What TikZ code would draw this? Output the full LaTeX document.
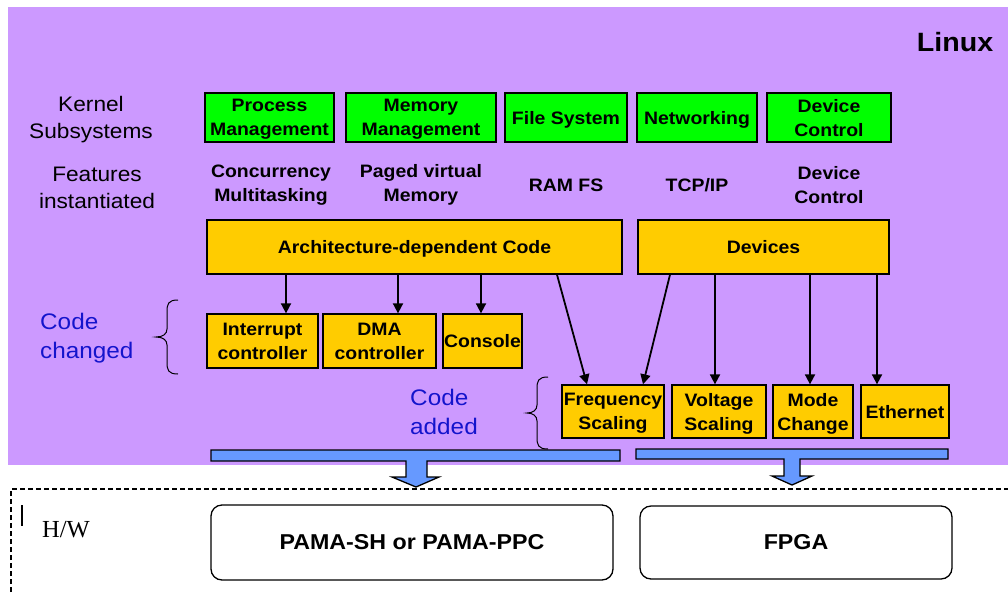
\documentclass[tikz,border=0pt]{standalone}
\usepackage{fontspec}
\setmainfont{Liberation Sans}[FakeStretch=1.08]
\newfontfamily\seriffont{Liberation Serif}
\usetikzlibrary{arrows.meta}
\definecolor{bgpurple}{HTML}{CC99FF}
\definecolor{boxgreen}{HTML}{00FF00}
\definecolor{boxorange}{HTML}{FFCC00}
\definecolor{barblue}{HTML}{6699FF}
\definecolor{txtblue}{HTML}{1414CC}
\tikzset{
  greenbox/.style={draw=black, line width=1.3pt, fill=boxgreen, inner sep=0pt, minimum height=49pt, align=center, text depth=0pt, font=\fontsize{18}{24}\selectfont\bfseries},
  orangebox/.style={draw=black, line width=1.3pt, fill=boxorange, inner sep=0pt, align=center, text depth=0pt, font=\fontsize{18}{24}\selectfont\bfseries},
  feat/.style={align=center, inner sep=0pt, font=\fontsize{18}{24}\selectfont\bfseries},
  sidelabel/.style={align=center, inner sep=0pt, font=\fontsize{21}{27}\selectfont},
  bluelabel/.style={align=left, inner sep=0pt, anchor=west, text=txtblue, font=\fontsize{22.5}{29}\selectfont},
  hwbox/.style={draw=black, line width=1.3pt, fill=white, rounded corners=11pt, inner sep=0pt, align=center, font=\fontsize{21.5}{25}\selectfont\bfseries},
  arr/.style={line width=1.8pt, -{Triangle[length=10pt,width=10pt]}},
  bar/.style={draw=black, line width=1.3pt, fill=barblue},
  bracestyle/.style={line width=1pt},
}
\begin{document}
\begin{tikzpicture}[x=1pt, y=-1pt]
\useasboundingbox (0,0) rectangle (1008,592);
\clip (0,0) rectangle (1008,592);
% background
\fill[bgpurple] (8,7) rectangle (1010,465);
\node[font=\fontsize{26.5}{30}\selectfont\bfseries, inner sep=0pt] (linux) at (955,42) {Linux};
% left labels
\node[sidelabel] (kernel) at (91,120) {Kernel\\Subsystems};
\node[sidelabel] (features) at (97,188) {Features\\instantiated};
% green boxes
\node[greenbox, minimum width=129pt] (proc) at (269.5,117.5) {Process\\Management};
\node[greenbox, minimum width=150pt] (mem) at (421,117.5) {Memory\\Management};
\node[greenbox, minimum width=122pt] (fs) at (566,117.5) {File System};
\node[greenbox, minimum width=120pt] (net) at (697,117.5) {Networking};
\node[greenbox, minimum width=124pt] (dev) at (829,117.5) {Device\\Control};
% features
\node[feat] (f1) at (271,185) {Concurrency\\Multitasking};
\node[feat] (f2) at (421,185) {Paged virtual\\Memory};
\node[feat] (f3) at (566,185) {RAM FS};
\node[feat] (f4) at (697,185) {TCP/IP};
\node[feat] (f5) at (829,185) {Device\\Control};
% orange big boxes
\node[orangebox, minimum width=415pt, minimum height=54pt] (arch) at (414.5,247) {Architecture-dependent Code};
\node[orangebox, minimum width=251pt, minimum height=54pt] (devs) at (763.5,247) {Devices};
% code changed boxes
\node[orangebox, minimum width=111pt, minimum height=54pt] (intr) at (262.5,341) {Interrupt\\controller};
\node[orangebox, minimum width=113pt, minimum height=54pt] (dma) at (379.5,341) {DMA\\controller};
\node[orangebox, minimum width=79pt, minimum height=54pt] (cons) at (482.5,341) {Console};
% code added boxes
\node[orangebox, minimum width=102pt, minimum height=53pt] (freq) at (613,411.5) {Frequency\\Scaling};
\node[orangebox, minimum width=94pt, minimum height=53pt] (volt) at (719,411.5) {Voltage\\Scaling};
\node[orangebox, minimum width=80pt, minimum height=53pt] (mode) at (813,411.5) {Mode\\Change};
\node[orangebox, minimum width=88pt, minimum height=53pt] (eth) at (905,411.5) {Ethernet};
% arrows
\draw[arr] (arch.south -| 286,0) -- (intr.north -| 286,0);
\draw[arr] (arch.south -| 398,0) -- (dma.north -| 398,0);
\draw[arr] (arch.south -| 481,0) -- (cons.north -| 481,0);
\draw[arr] (arch.south -| 557,0) -- (freq.north -| 587,0);
\draw[arr] (devs.south -| 670,0) -- (freq.north -| 643,0);
\draw[arr] (devs.south -| 715,0) -- (volt.north -| 715,0);
\draw[arr] (devs.south -| 810,0) -- (mode.north -| 810,0);
\draw[arr] (devs.south -| 877,0) -- (eth.north -| 877,0);
% braces and blue labels
\draw[bracestyle] (178,300) .. controls (168,300) and (167,304) .. (167,312) -- (167,329) .. controls (167,334) and (163,337) .. (156,337) .. controls (163,337) and (167,340) .. (167,345) -- (167,362) .. controls (167,370) and (168,374) .. (178,374);
\node[bluelabel] (changed) at (40,338) {Code\\changed};
\draw[bracestyle] (548,377) .. controls (538,377) and (537,381) .. (537,389) -- (537,405) .. controls (537,410) and (533,413) .. (527,413) .. controls (533,413) and (537,416) .. (537,421) -- (537,437) .. controls (537,445) and (538,449) .. (548,449);
\node[bluelabel] (added) at (410,411.5) {Code\\added};
% blue bars with arrows
\draw[bar] (211,450) -- (620,450) -- (620,461) -- (427,461) -- (427,477) -- (439,477) -- (416,487) -- (392,477) -- (406,477) -- (406,461) -- (211,461) -- cycle;
\draw[bar] (636,449) -- (948,449) -- (948,459) -- (800,459) -- (800,476) -- (812,476) -- (792,485) -- (772,476) -- (784,476) -- (784,459) -- (636,459) -- cycle;
% H/W area
\draw[line width=1.5pt, dash pattern=on 5pt off 3pt] (11,600) -- (11,489) -- (1015,489);
\draw[line width=1.2pt] (22,505) -- (22,526);
\node[anchor=west, inner sep=0pt, font=\seriffont\fontsize{24.5}{28}\selectfont] (hw) at (42,530) {H/W};
\node[hwbox, minimum width=402pt, minimum height=75pt] (pama) at (412,542.5) {PAMA-SH or PAMA-PPC};
\node[hwbox, minimum width=312pt, minimum height=73pt] (fpga) at (796,542.5) {FPGA};
\end{tikzpicture}
\end{document}
